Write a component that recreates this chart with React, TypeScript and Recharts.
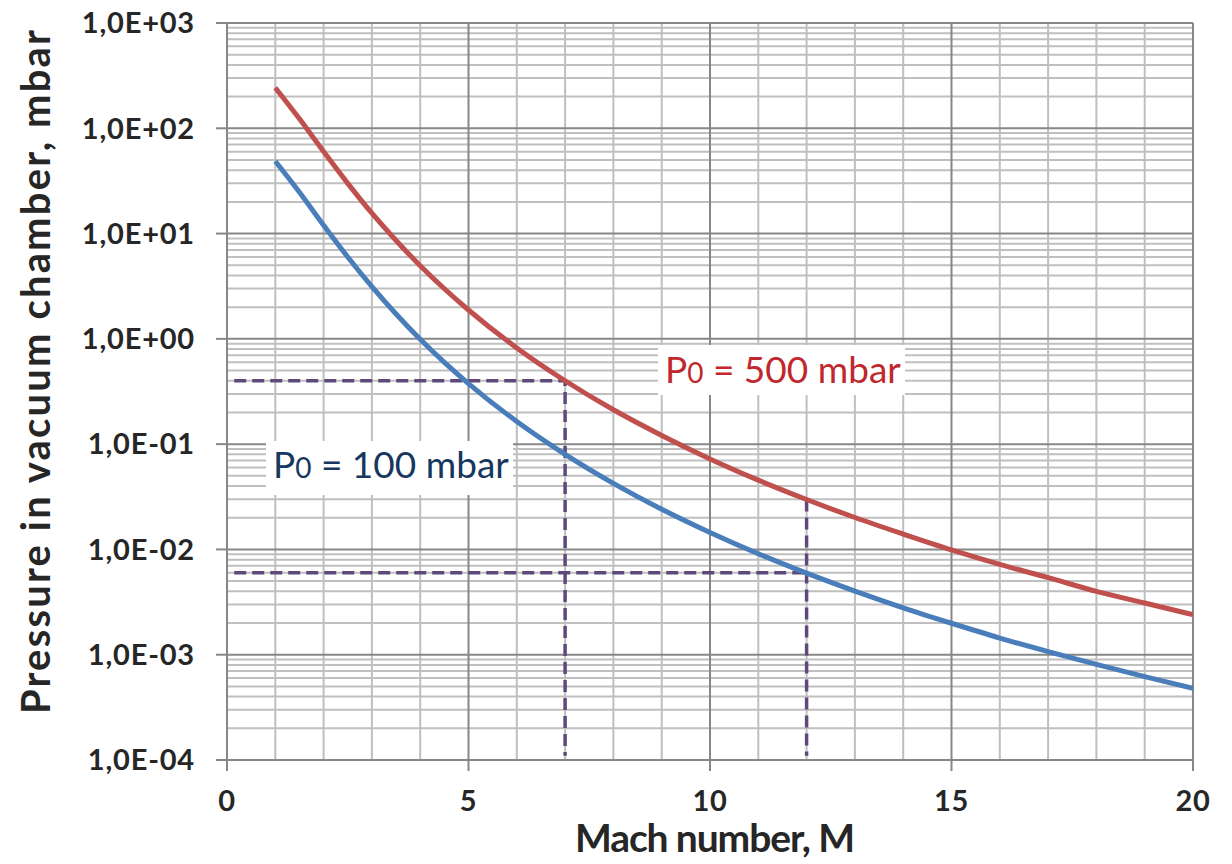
import { LineChart, Line, XAxis, YAxis, CartesianGrid, Customized } from 'recharts'

// Mach number samples and chamber pressure (mbar)
const MACH = [1, 1.5, 2, 2.5, 3, 3.5, 4, 4.5, 5, 6, 7, 8, 9, 10, 11, 12, 13, 14, 15, 16, 17, 18, 19, 20]
const P_100 = [
  48.7, 24.7, 12.0, 5.99, 3.13, 1.72, 0.99, 0.598, 0.376, 0.164, 0.08, 0.0424, 0.0241, 0.0145, 0.0091,
  0.00595, 0.00402, 0.00279, 0.00199, 0.00144, 0.00107, 0.00081, 0.00062, 0.00048,
]
const P_500 = [
  243, 123, 60.1, 30.0, 15.6, 8.6, 4.95, 2.99, 1.88, 0.82, 0.4, 0.212, 0.121, 0.0724, 0.0455, 0.0298,
  0.0201, 0.014, 0.0099, 0.0072, 0.0054, 0.004, 0.0031, 0.0024,
]

// dashed read-off guides: [mach, pressure] pairs
const GUIDE_1 = [[0.15, 0.4], [7, 0.4], [7, 0.00011]]
const GUIDE_2 = [[0.15, 0.006], [12, 0.006]]
const GUIDE_3 = [[12, 0.0298], [12, 0.00011]]

const X_TICKS = [0, 5, 10, 15, 20]
const X_MINOR = [1, 2, 3, 4, 6, 7, 8, 9, 11, 12, 13, 14, 16, 17, 18, 19]
const Y_TICKS = [1e-4, 1e-3, 1e-2, 1e-1, 1, 10, 100, 1000]
const Y_MINOR_STEPS = [2, 3, 4, 5, 6, 7, 8, 9]

const Y_MINOR = Y_TICKS.slice(0, -1).flatMap((d) => Y_MINOR_STEPS.map((k) => k * d))

const rows = MACH.map((m, i) => ({ m, p100: P_100[i], p500: P_500[i] }))
const toGuide = (pts: number[][]) => pts.map(([m, p]) => ({ m, g: p }))

const FONT = 'Lato, "Open Sans", sans-serif'
const TXT = '#262626'
const MINOR = '#bfbfbf'
const MAJOR = '#878787'
const GUIDE = '#5f497a'

const fmtExp = (v: number) => {
  const e = Math.round(Math.log10(v))
  return `1,0E${e < 0 ? '-' : '+'}${String(Math.abs(e)).padStart(2, '0')}`
}

const applyScale = (axis: any, v: number) => {
  const s = axis?.scale
  if (typeof s === 'function') return s(v)
  if (s && typeof s.map === 'function') return s.map(v)
  return NaN
}

const Annotations = () => (
  <g fontFamily={FONT}>
    <text
      x={50}
      y={372}
      transform="rotate(-90 50 372)"
      textAnchor="middle"
      fontSize={40}
      fontWeight={700}
      fill={TXT}
      textLength={684}
      lengthAdjust="spacing"
    >
      Pressure in vacuum chamber, mbar
    </text>
    <text x={715} y={852} textAnchor="middle" fontSize={39} fontWeight={700} fill={TXT} textLength={280} lengthAdjust="spacing">
      Mach number, M
    </text>

    <rect x={266} y={441} width={247} height={54} fill="#fff" />
    <text x={273} y={478} fontSize={37} fill="#17375e">
      <tspan>P</tspan>
      <tspan fontSize={28}>0</tspan>
      <tspan> = 100 mbar</tspan>
    </text>

    <rect x={658} y={345} width={247} height={50} fill="#fff" />
    <text x={665} y={383} fontSize={37} fill="#c0282d">
      <tspan>P</tspan>
      <tspan fontSize={28}>0</tspan>
      <tspan> = 500 mbar</tspan>
    </text>
  </g>
)

const tickStyle = { fontSize: 29, fontWeight: 700, fill: TXT, fontFamily: FONT, letterSpacing: 0.8 }

export default function App() {
  return (
    <div style={{ position: 'absolute', left: 0, top: 0, width: 1232, height: 864, background: '#fff' }}>
      <LineChart width={1232} height={864} data={rows} margin={{ top: 23, right: 39, bottom: 0, left: 0 }}>
        <CartesianGrid
          stroke={MINOR}
          strokeWidth={2}
          horizontalCoordinatesGenerator={({ yAxis }: any) => Y_MINOR.map((v) => applyScale(yAxis, v))}
          verticalCoordinatesGenerator={({ xAxis }: any) => X_MINOR.map((v) => applyScale(xAxis, v))}
        />
        <CartesianGrid stroke={MAJOR} strokeWidth={2} />
        <XAxis
          dataKey="m"
          type="number"
          domain={[0, 20]}
          ticks={X_TICKS}
          height={104}
          tickSize={11}
          tickMargin={19}
          axisLine={{ stroke: MAJOR, strokeWidth: 2 }}
          tickLine={{ stroke: MAJOR, strokeWidth: 2 }}
          tick={tickStyle}
          allowDataOverflow
        />
        <YAxis
          scale="log"
          type="number"
          domain={[1e-4, 1000]}
          ticks={Y_TICKS}
          width={227}
          tickSize={11}
          tickMargin={21}
          tickFormatter={fmtExp}
          axisLine={{ stroke: MAJOR, strokeWidth: 2 }}
          tickLine={{ stroke: MAJOR, strokeWidth: 2 }}
          tick={tickStyle}
          allowDataOverflow
        />
        <Line data={toGuide(GUIDE_1)} dataKey="g" type="linear" stroke={GUIDE} strokeWidth={3.5} strokeDasharray="12 6" dot={false} isAnimationActive={false} />
        <Line data={toGuide(GUIDE_2)} dataKey="g" type="linear" stroke={GUIDE} strokeWidth={3.5} strokeDasharray="12 6" dot={false} isAnimationActive={false} />
        <Line data={toGuide(GUIDE_3)} dataKey="g" type="linear" stroke={GUIDE} strokeWidth={3.5} strokeDasharray="12 6" dot={false} isAnimationActive={false} />
        <Line dataKey="p500" type="monotone" stroke="#c0504d" strokeWidth={5} dot={false} isAnimationActive={false} />
        <Line dataKey="p100" type="monotone" stroke="#4a7ebb" strokeWidth={5} dot={false} isAnimationActive={false} />
        <Customized component={Annotations} />
      </LineChart>
    </div>
  )
}
